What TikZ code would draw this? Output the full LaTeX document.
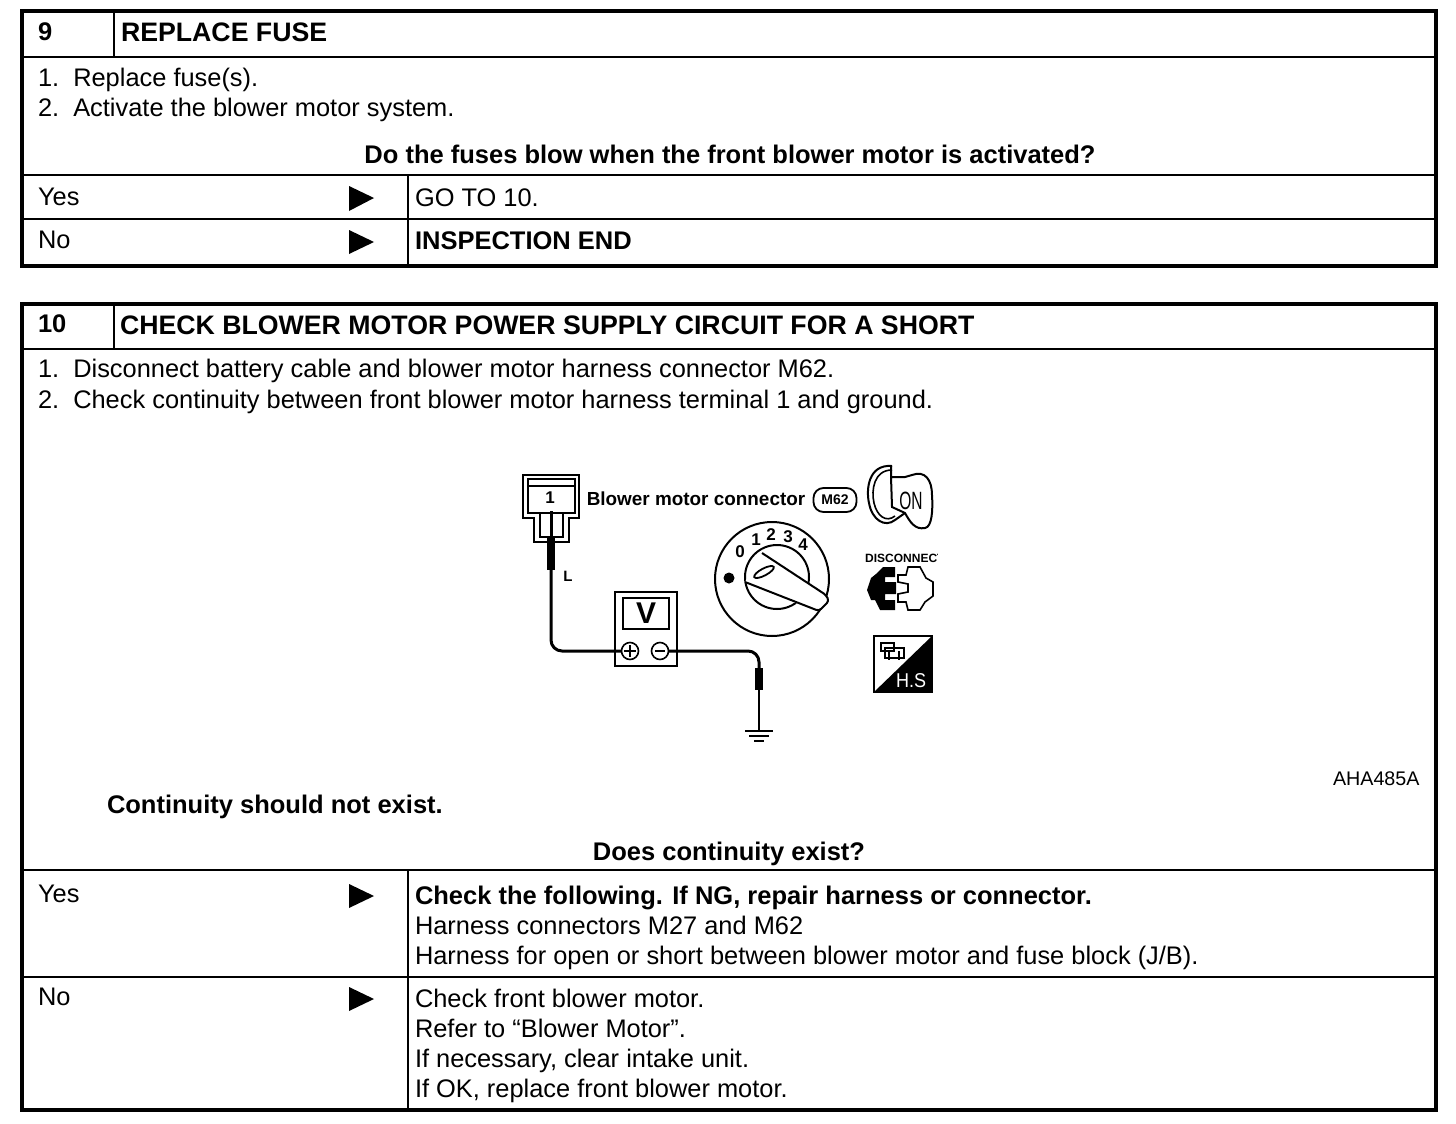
\documentclass[tikz,border=0pt]{standalone}
\usepackage{fontspec}
\setmainfont{Liberation Sans}
\newcommand{\fs}[1]{\fontsize{#1}{#1}\selectfont}
\tikzset{
 x=1pt,y=-1pt,
 frame/.style={draw=black,line width=3.4pt},
 rule/.style={draw=black,line width=1.8pt},
 txt/.style={anchor=base west,inner sep=0pt,outer sep=0pt,font=\fs{25.4}},
 btxt/.style={txt,font=\fs{25.5}\bfseries},
 head/.style={txt,font=\fs{26.7}\bfseries},
 mid/.style={anchor=base,inner sep=0pt,outer sep=0pt,font=\fs{25.5}\bfseries},
 tri/.style={fill=black,draw=none},
 wire/.style={draw=black,line width=3pt,rounded corners=11pt},
 probe/.style={fill=black,draw=none,minimum width=8.5pt,inner sep=0pt,outer sep=0pt,rectangle},
 needle/.style={draw=black,line width=2.6pt},
 lbl/.style={inner sep=0pt,outer sep=0pt,font=\fs{18.9}\bfseries},
 dial/.style={inner sep=0pt,outer sep=0pt,font=\fs{17}\bfseries},
 icon/.style={draw=black,line width=1.6pt},
 term/.style={circle,draw=black,line width=1.6pt,minimum size=17pt,inner sep=0pt,outer sep=0pt,fill=white},
}
\begin{document}
\begin{tikzpicture}
\useasboundingbox (0,0) rectangle (1456,1124);
\fill[white] (0,0) rectangle (1456,1124);
% table 9
\draw[frame] (22,11) rectangle (1436,266);
\draw[rule] (22,57)--(1436,57) (114,11)--(114,57) (22,175)--(1436,175) (22,219)--(1436,219) (408,175)--(408,265);
\node[btxt] (n9) at (38,41) {9};
\node[head] (t9) at (121,42) {REPLACE FUSE};
\node[txt] (a1) at (38,86) {1.\ \ Replace fuse(s).};
\node[txt] (a2) at (38,116) {2.\ \ Activate the blower motor system.};
\node[mid] (q9) at (730,163) {Do the fuses blow when the front blower motor is activated?};
\node[txt] (y9) at (38,205) {Yes};
\node[txt] (g9) at (415,206) {GO TO 10.};
\node[txt] (no9) at (38,248) {No};
\node[btxt] (e9) at (415,249) {INSPECTION END};
\fill[tri] (349,186)--(374,198)--(349,211)--cycle;
\fill[tri] (349,230)--(374,242)--(349,254)--cycle;
% table 10
\draw[frame] (22,304) rectangle (1436,1110);
\draw[rule] (22,349)--(1436,349) (114,304)--(114,349) (22,870)--(1436,870) (22,977)--(1436,977) (408,870)--(408,1109);
\node[btxt] (n10) at (38,332) {10};
\node[head] (t10) at (120,334) {CHECK BLOWER MOTOR POWER SUPPLY CIRCUIT FOR A SHORT};
\node[txt] (b1) at (38,377) {1.\ \ Disconnect battery cable and blower motor harness connector M62.};
\node[txt] (b2) at (38,408) {2.\ \ Check continuity between front blower motor harness terminal 1 and ground.};
\node[btxt] (c1) at (107,813) {Continuity should not exist.};
\node[mid] (q10) at (729,860) {Does continuity exist?};
\node[txt,font=\fs{19.7}] (code) at (1333,785) {AHA485A};
\node[txt] (y10) at (38,902) {Yes};
\node[btxt] (r1) at (415,904) {Check the following. If NG, repair harness or connector.};
\node[txt] (r2) at (415,934) {Harness connectors M27 and M62};
\node[txt] (r3) at (415,964) {Harness for open or short between blower motor and fuse block (J/B).};
\node[txt] (no10) at (38,1005) {No};
\node[txt] (s1) at (415,1007) {Check front blower motor.};
\node[txt] (s2) at (415,1037) {Refer to “Blower Motor”.};
\node[txt] (s3) at (415,1067) {If necessary, clear intake unit.};
\node[txt] (s4) at (415,1097) {If OK, replace front blower motor.};
\fill[tri] (349,884)--(374,896)--(349,908)--cycle;
\fill[tri] (349,987)--(374,999)--(349,1011)--cycle;
% connector
\draw[icon,line width=2pt] (523,475)--(579,475)--(579,518)--(569,518)--(569,542)--(534,542)--(534,518)--(523,518)--cycle;
\draw[icon] (528,479)--(575,479)--(575,513)--(528,513)--cycle (528,486)--(575,486);
\draw[icon] (540,514)--(540,537)--(563,537)--(563,514);
\node[dial] (pin) at (550,498) {1};
\node[lbl] (blab) at (696,499) {Blower motor connector};
\node[draw=black,line width=1.8pt,rounded corners=10pt,minimum width=43pt,minimum height=24pt,inner sep=0pt,font=\fs{14}\bfseries] (m62) at (835,500) {M62};
\node[lbl,font=\fs{15}\bfseries] (ll) at (568,576) {L};
% probe A
\node[probe,minimum height=32pt] (pa) at (551,554) {};
\coordinate (tipa) at (551,511);
\draw[needle,line width=3pt] (tipa)--(pa.north);
% meter
\node[draw=black,line width=2pt,minimum width=62pt,minimum height=74pt,inner sep=0pt] (meter) at (646,629) {};
\node[draw=black,line width=2pt,minimum width=46pt,minimum height=31pt,inner sep=0pt,font=\fs{30}\bfseries] (disp) at (646,613.5) {V};
\node[term] (plus) at (630,651) {};
\node[term] (minus) at (660,651) {};
\draw[line width=1.5pt] (624,651)--(636,651) (630,645)--(630,657) (655,651)--(665,651);
% probe B
\node[probe,minimum height=22pt] (pb) at (759,679) {};
\draw[wire] (pa.south)--(pa.south |- plus)--(plus);
\draw[wire] (minus)--(pb.north |- minus)--(pb.north);
% ground
\coordinate (gnd) at (759,731);
\draw[needle] (pb.south)--(gnd);
\draw[line width=1.8pt] (745,731)--(773,731) (749,736)--(769,736) (754,741)--(764,741);
% rotary switch
\node[circle,draw=black,line width=2pt,minimum size=114pt,inner sep=0pt] (sw) at (772,579) {};
\draw[icon,line width=2pt] (777,577) circle (32);
\fill[white] (762,553) -- (825,595) -- (829,601) -- (818,611) -- (810,609) -- (745,582) -- cycle;
\draw[line width=2pt,line join=round,rounded corners=3pt] (762,553)--(826,595)--(829,601)--(819,611)--(745,582);
\draw[line width=1.8pt,fill=white,rotate around={28:(764,572)}] (764,572) ellipse (11 and 3.5);
\node[dial] (d0) at (740,552) {0};
\node[dial] (d1) at (756,540) {1};
\node[dial] (d2) at (771,535) {2};
\node[dial] (d3) at (788,537) {3};
\node[dial] (d4) at (803,545) {4};
\fill (729,578) circle (5.5);
% key
\draw[icon,line width=2pt] (892,466) .. controls (868,464) and (866,490) .. (869,503) .. controls (872,520) and (885,528) .. (895,520) -- (905,513);
\draw[icon] (892,470) .. controls (874,470) and (871,490) .. (874,503) .. controls (877,516) and (886,523) .. (895,516);
\draw[icon,line width=2pt] (891,466) -- (891,477) -- (905,477) -- (912,475) .. controls (925,470) and (932,480) .. (932,495) .. controls (933,510) and (932,527) .. (925,528) .. controls (915,530) and (910,522) .. (905,513) -- (892,507) -- (891,477);
\node[inner sep=0pt,font=\fs{25},xscale=.62] (on) at (911,501) {ON};
% disconnect
\begin{scope}
\clip (860,550) rectangle (937,565);
\node[anchor=base west,inner sep=0pt,font=\fs{12}\bfseries] (disc) at (865,562) {DISCONNECT};
\end{scope}
\fill (883,567)--(895,567)--(895,577)--(885,577)--(885,582)--(896,582)--(896,594)--(885,594)--(885,600)--(895,600)--(895,610)--(880,610)--(875,600)--(871,600)--(867,590)--(871,578)--(876,574)--cycle;
\draw[icon] (908,567)--(920,567)--(926,578)--(933,582)--(933,596)--(925,602)--(920,610)--(908,610)--(906,602)--(898,602)--(898,594)--(908,592)--(908,584)--(898,582)--(898,575)--(906,575)--cycle;
% H.S icon
\draw[icon,line width=2pt,fill=white] (874,636) rectangle (932,692);
\fill (932,636)--(932,692)--(874,692)--cycle;
\node[inner sep=0pt,text=white,font=\fs{20},xscale=.9] (hs) at (911,681) {H.S};
\draw[line width=1.3pt] (881,643) rectangle (894,651) (885,648) rectangle (904,658) (889,651)--(889,660) (899,651)--(899,660);
\end{tikzpicture}
\end{document}
